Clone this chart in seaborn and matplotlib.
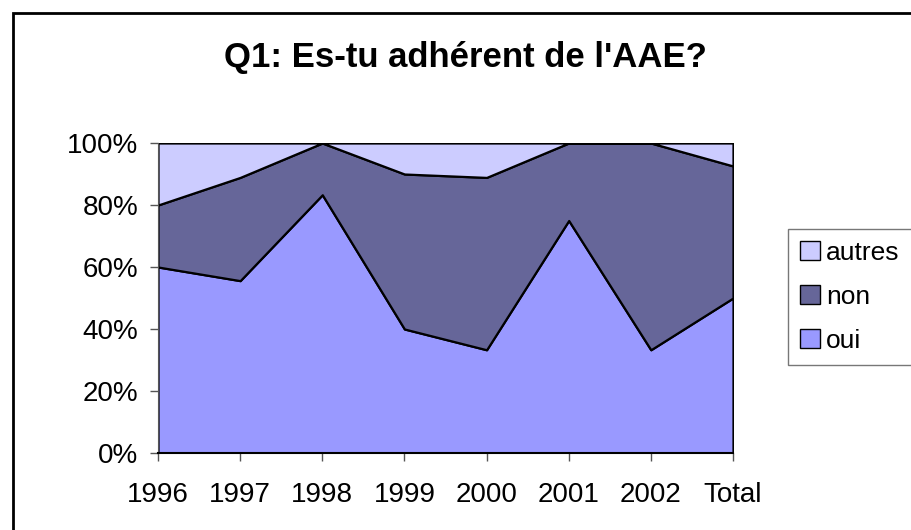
import matplotlib
matplotlib.use("Agg")
import matplotlib.pyplot as plt
import matplotlib.patches as mpatches
import seaborn as sns

# Data (share of answers, in %)
categories = ["1996", "1997", "1998", "1999", "2000", "2001", "2002", "Total"]
oui = [60, 55.6, 83.3, 40, 33.3, 75, 33.3, 50]
non = [20, 33.3, 16.7, 50, 55.6, 25, 66.7, 42.6]
autres = [20, 11.1, 0, 10, 11.1, 0, 0, 7.4]

colors = {"oui": "#9999FF", "non": "#666699", "autres": "#CCCCFF"}

sns.set_style("white")
plt.rcParams["font.family"] = ["Liberation Sans", "DejaVu Sans"]
plt.rcParams["text.color"] = "black"

fig = plt.figure(figsize=(9.11, 5.30), dpi=100)
ax = fig.add_axes([158 / 911, 77 / 530, (733 - 158) / 911, (453 - 143) / 530])

x = list(range(len(categories)))
ax.stackplot(x, oui, non, autres,
             colors=[colors["oui"], colors["non"], colors["autres"]],
             edgecolor="black", linewidth=1.6)

ax.set_xlim(0, len(categories) - 1)
ax.set_ylim(0, 100)
ax.set_xticks(x)
ax.set_xticklabels(categories, fontsize=20)
ax.set_yticks(range(0, 101, 20))
ax.set_yticklabels([f"{v}%" for v in range(0, 101, 20)], fontsize=20)
ax.tick_params(axis="x", direction="out", length=6, width=1, color="#555555",
               labelcolor="black", pad=15)
ax.tick_params(axis="y", direction="out", length=6, width=1, color="#555555",
               labelcolor="black", pad=8)
ax.tick_params(bottom=True, left=True)
sns.despine(ax=ax, top=True, right=True)
ax.spines["left"].set_color("#555555")
ax.spines["bottom"].set_color("black")
ax.spines["bottom"].set_linewidth(1.5)

fig.text(465 / 911, 1 - 57 / 530, "Q1: Es-tu adhérent de l'AAE?",
         ha="center", va="center", fontsize=25, fontweight="bold", color="black")

# outer chart frame
frame = mpatches.Rectangle((13 / 911, -0.05), 1.1, 1 - 13 / 530 + 0.05,
                           transform=fig.transFigure, fill=False,
                           edgecolor="black", linewidth=2)
fig.patches.append(frame)

handles = [mpatches.Patch(facecolor=colors[k], edgecolor="black", label=k)
           for k in ["autres", "non", "oui"]]
leg = fig.legend(handles=handles, loc="upper left",
                 bbox_to_anchor=(788 / 911, 1 - 229 / 530),
                 fontsize=19, frameon=True, fancybox=False,
                 edgecolor="#555555", handlelength=0.75, handleheight=0.75,
                 handletextpad=0.25, labelspacing=0.76, borderpad=0.45,
                 borderaxespad=0)
leg.get_frame().set_linewidth(1)
for t in leg.get_texts():
    t.set_color("black")

fig.savefig("out.png", dpi=100)
